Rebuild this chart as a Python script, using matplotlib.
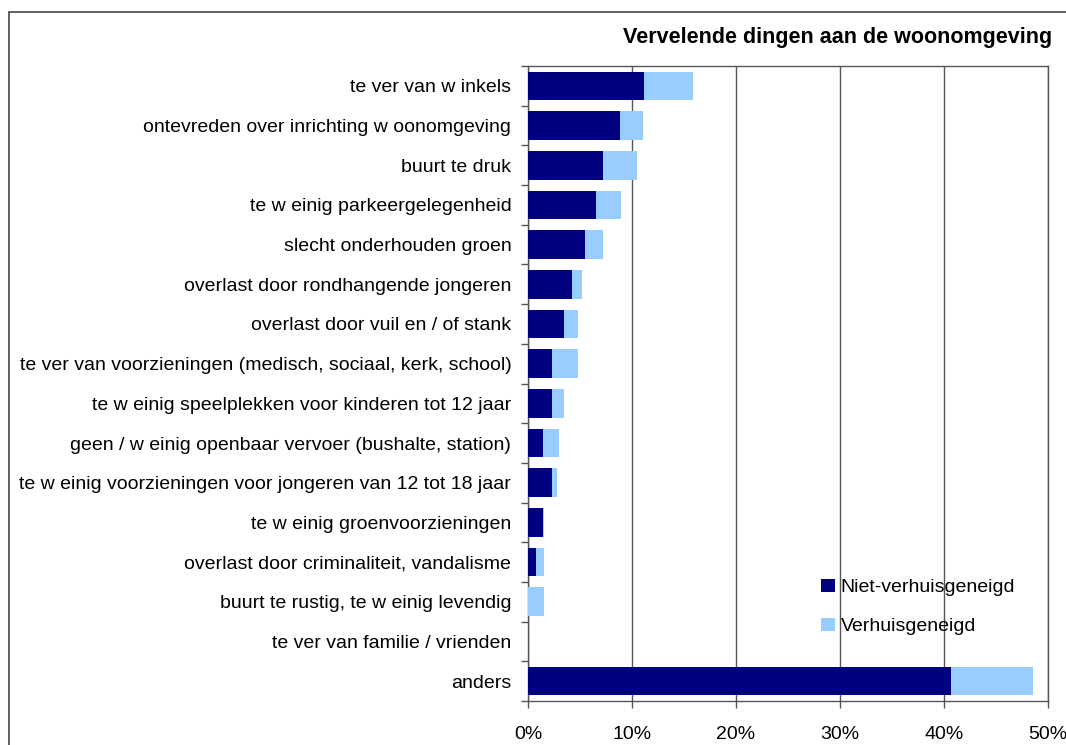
import numpy as np
import matplotlib.pyplot as plt
from matplotlib.patches import Rectangle
from matplotlib.ticker import FixedLocator, FuncFormatter

plt.rcParams["font.family"] = ["Liberation Sans", "DejaVu Sans"]

# categories top to bottom, as printed in the chart
categories = [
    "te ver van w inkels",
    "ontevreden over inrichting w oonomgeving",
    "buurt te druk",
    "te w einig parkeergelegenheid",
    "slecht onderhouden groen",
    "overlast door rondhangende jongeren",
    "overlast door vuil en / of stank",
    "te ver van voorzieningen (medisch, sociaal, kerk, school)",
    "te w einig speelplekken voor kinderen tot 12 jaar",
    "geen / w einig openbaar vervoer (bushalte, station)",
    "te w einig voorzieningen voor jongeren van 12 tot 18 jaar",
    "te w einig groenvoorzieningen",
    "overlast door criminaliteit, vandalisme",
    "buurt te rustig, te w einig levendig",
    "te ver van familie / vrienden",
    "anders",
]
niet_verhuisgeneigd = [11.2, 8.8, 7.2, 6.55, 5.5, 4.2, 3.5, 2.3, 2.3, 1.4, 2.3, 1.4, 0.8, 0.0, 0.0, 40.7]
verhuisgeneigd = [4.7, 2.3, 3.3, 2.4, 1.7, 1.0, 1.3, 2.5, 1.15, 1.6, 0.5, 0.1, 0.75, 1.55, 0.0, 7.9]
x_ticks = [0, 10, 20, 30, 40, 50]

DARK = "#000080"
LIGHT = "#99CCFF"
LINE = "#555555"
FS = 14

fig = plt.figure(figsize=(10.66, 7.45), dpi=100)
fig.patch.set_facecolor("white")

# chart-area border, runs off the right and bottom edges
fig.patches.append(Rectangle((9 / 1066, -0.2), 1.3, 0.2 + (745 - 12) / 745,
                             transform=fig.transFigure, fill=False,
                             edgecolor="#444444", linewidth=1.2))

ax = fig.add_axes([528 / 1066, 44 / 745, 520 / 1066, 635 / 745])

y = np.arange(len(categories))
ax.barh(y, niet_verhuisgeneigd, height=0.72, color=DARK, label="Niet-verhuisgeneigd", zorder=3)
ax.barh(y, verhuisgeneigd, left=niet_verhuisgeneigd, height=0.72, color=LIGHT,
        label="Verhuisgeneigd", zorder=3)

ax.set_xlim(0, 50)
ax.set_ylim(len(categories) - 0.5, -0.5)

ax.xaxis.set_major_locator(FixedLocator(x_ticks))
ax.xaxis.set_major_formatter(FuncFormatter(lambda v, _: f"{v:.0f}%"))
ax.tick_params(axis="x", length=5, width=1, color=LINE, labelsize=FS, pad=13)
ax.grid(axis="x", color=LINE, linewidth=1, zorder=0)

ax.set_yticks(y)
ax.set_yticklabels(categories)
ax.tick_params(axis="y", which="major", length=0, labelsize=FS, pad=12)
ax.yaxis.set_minor_locator(FixedLocator(np.arange(-0.5, len(categories), 1)))
ax.tick_params(axis="y", which="minor", length=5, width=1, color=LINE)

for side in ["left", "right", "top", "bottom"]:
    ax.spines[side].set_color(LINE)
    ax.spines[side].set_linewidth(1)

ax.legend(loc="upper left", bbox_to_anchor=(0.53, 0.22), frameon=False, fontsize=FS,
          handlelength=0.7, handleheight=0.7, labelspacing=1.1, handletextpad=0.3)

fig.text(1052 / 1066, 1 - 37 / 745, "Vervelende dingen aan de woonomgeving",
         ha="right", va="center", fontsize=15.5, fontweight="bold")

fig.savefig("out.png", dpi=100, facecolor="white")
